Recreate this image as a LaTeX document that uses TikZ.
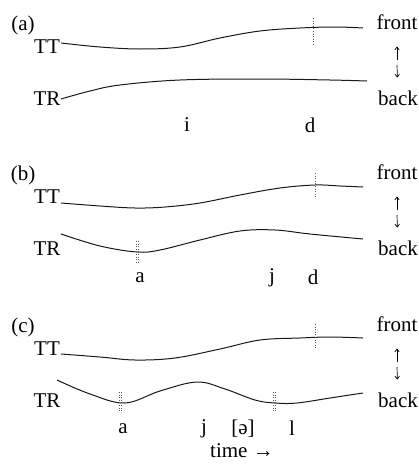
\documentclass[tikz,border=0pt]{standalone}
\usepackage{fontspec}
\setmainfont{Liberation Serif}
\usetikzlibrary{arrows.meta, positioning}

\begin{document}
\begin{tikzpicture}[
    x=1pt, y=-1pt,
    txt/.style   = {font=\fontsize{21}{21}\selectfont, inner sep=0pt},
    track/.style = {line width=1pt, black!90},
    tick/.style  = {dotted, line width=0.6pt, black!65},
    dir/.style   = {-{To[length=3.5pt, width=5pt]}, line width=0.7pt},
]
\useasboundingbox (0,0) rectangle (419,466);

%% ---- Shared parts of each panel ----
\foreach \p/\dy in {a/0, b/150, c/302} {
    \node[txt] (lab-\p)   at (23, 25+\dy)  {(\p)};
    \node[txt] (tt-\p)    at (47, 47+\dy)  {TT};
    \node[txt] (tr-\p)    at (47, 99+\dy)  {TR};
    \node[txt] (front-\p) at (397, 22+\dy) {front};
    \node[txt] (back-\p)  at (398, 98+\dy) {back};
    \coordinate (up-\p)   at (397, 60+\dy);
    \coordinate (down-\p) at (397, 65+\dy);
    \draw[dir] (up-\p)   -- (front-\p) [shorten >=17pt];
    \draw[dir] (down-\p) -- (back-\p)  [shorten >=13pt];
}

%% ---- Panel (a) ----
\draw[track] plot[smooth, tension=0.6] coordinates
    {(61,43) (100,47) (140,49) (180,47) (220,38) (260,31) (300,28) (335,27) (363,28)};
\draw[track] plot[smooth, tension=0.6] coordinates
    {(61,99) (90,91) (120,85) (180,80) (260,79) (330,80) (367,81)};
\draw[tick] (313,18) -- (313,45);
\node[txt] (i-a) at (187,125) {i};
\node[txt] (d-a) at (310,125) {d};

%% ---- Panel (b) ----
\draw[track] plot[smooth, tension=0.6] coordinates
    {(61,203) (100,206) (135,208) (165,207) (200,203) (240,195) (280,188) (315,185) (340,186) (363,187)};
\draw[track] plot[smooth, tension=0.6] coordinates
    {(61,234) (100,246) (137,252) (160,250) (200,240) (240,231) (275,230) (310,234) (363,239)};
\draw[tick] (315,173) -- (315,197);
\draw[tick] (136,241) -- (136,262);
\draw[tick] (138.5,241) -- (138.5,262);
\node[txt] (a-b) at (140,278) {a};
\node[txt] (j-b) at (272,278) {j};
\node[txt] (d-b) at (313,277) {d};

%% ---- Panel (c) ----
\draw[track] plot[smooth, tension=0.6] coordinates
    {(61,354) (100,357) (135,360) (175,358) (220,349) (260,340) (300,338) (330,337) (363,338)};
\draw[track] plot[smooth, tension=0.6] coordinates
    {(57,380) (90,394) (125,403) (160,391) (197,382) (225,389) (255,400) (275,403) (297,403) (330,398) (363,393)};
\draw[tick] (315,324) -- (315,349);
\draw[tick] (119,392) -- (119,412);
\draw[tick] (121.5,392) -- (121.5,412);
\draw[tick] (273,392) -- (273,412);
\draw[tick] (275.5,392) -- (275.5,412);
\node[txt] (a-c)    at (123,429) {a};
\node[txt] (j-c)    at (204,429) {j};
\node[txt] (schwa)  at (243,429) {[ə]};
\node[txt] (l-c)    at (292,428) {l};
\node[txt] (time)   at (242,451) {time →};

\end{tikzpicture}
\end{document}
